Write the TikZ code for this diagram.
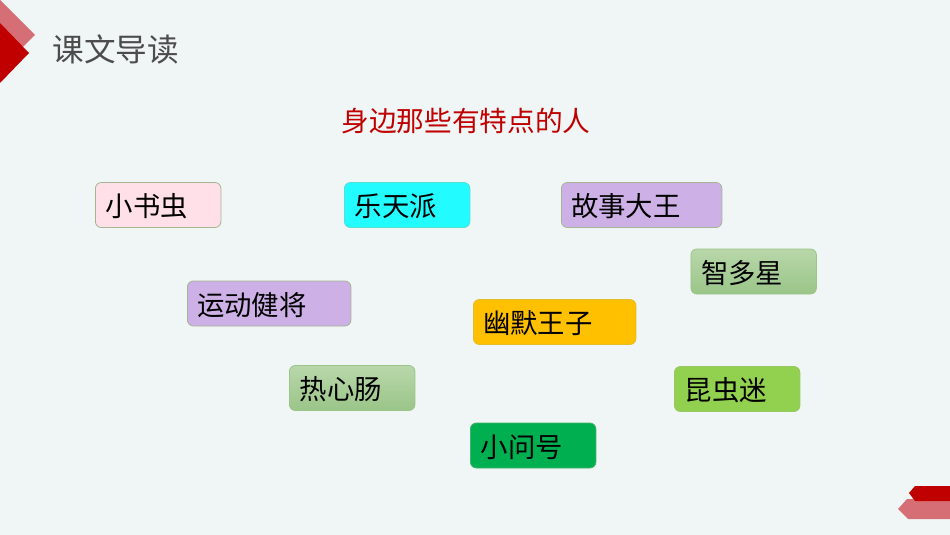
\documentclass[tikz,border=0pt]{standalone}
\usepackage{fontspec}
\setmainfont{Noto Sans CJK SC}
\definecolor{pagebg}{HTML}{F0F5F5}
\definecolor{darkred}{HTML}{C00000}
\definecolor{lightred}{HTML}{D66F75}
\definecolor{edgegreen}{HTML}{A5B592}
\definecolor{tagpink}{HTML}{FFE0E8}
\definecolor{tagcyan}{HTML}{22FBFF}
\definecolor{tagviolet}{HTML}{CCB0E6}
\definecolor{tagamber}{HTML}{FFC000}
\definecolor{taglime}{HTML}{92D050}
\definecolor{taggreen}{HTML}{00B050}
\definecolor{sagetop}{HTML}{B9D7AA}
\definecolor{sagebot}{HTML}{9AC588}
\tikzset{
    tagbox/.style={draw=edgegreen, line width=0.8pt, rounded corners=6pt, anchor=west,
        minimum height=45pt, inner sep=0pt, align=left, text=black,
        text height=26pt, text depth=3pt,
        font=\fontsize{27.4pt}{30pt}\selectfont},
    threebox/.style={tagbox, minimum width=125.5pt, text width=105pt},
    fourbox/.style={tagbox, minimum width=162.5pt, text width=143pt},
    sagebox/.style={threebox, draw=sagebot, top color=sagetop, bottom color=sagebot}
}
\begin{document}
\begin{tikzpicture}[x=1pt,y=-1pt]

% Page
\fill[pagebg] (0,0) rectangle (950,535);
\useasboundingbox (0,0) rectangle (950,535);

% Corner marks
\fill[lightred] (0,0) -- (35,35) -- (20,50) -- (0,30) -- cycle;
\fill[darkred] (0,23) -- (29,53) -- (0,83) -- cycle;
\fill[lightred] (950,499) -- (907,499) -- (898,509) -- (908,519) -- (950,519) -- cycle;
\fill[darkred] (950,486) -- (915,486) -- (909,493) -- (915,501) -- (950,501) -- cycle;

% Headings
\node[anchor=west, inner sep=0pt, text=black!70, font=\fontsize{31.6pt}{34pt}\selectfont]
    (kewen) at (52.5,49.5) {课文导读};
\node[inner sep=0pt, text=darkred, font=\fontsize{27.7pt}{30pt}\selectfont]
    (biaoti) at (466,121.5) {身边那些有特点的人};

% Tags
\node[threebox, fill=tagpink] (shuchong) at (95,205) {小书虫};
\node[threebox, draw=tagcyan!60!edgegreen, fill=tagcyan] (letian) at (344,205) {乐天派};
\node[fourbox, fill=tagviolet, minimum width=160.5pt, text width=141pt] (gushi) at (561,205) {故事大王};
\node[sagebox] (zhiduo) at (690.5,271.5) {智多星};
\node[fourbox, fill=tagviolet, minimum width=163.5pt, text width=144pt] (yundong) at (187,303.5) {运动健将};
\node[fourbox, draw=tagamber!70!edgegreen, fill=tagamber] (youmo) at (473,322) {幽默王子};
\node[sagebox] (rexin) at (289,388) {热心肠};
\node[threebox, draw=taglime!70!edgegreen, fill=taglime] (kunchong) at (674,389) {昆虫迷};
\node[threebox, draw=taggreen!60!edgegreen, fill=taggreen] (wenhao) at (470,445.5) {小问号};
\end{tikzpicture}
\end{document}
